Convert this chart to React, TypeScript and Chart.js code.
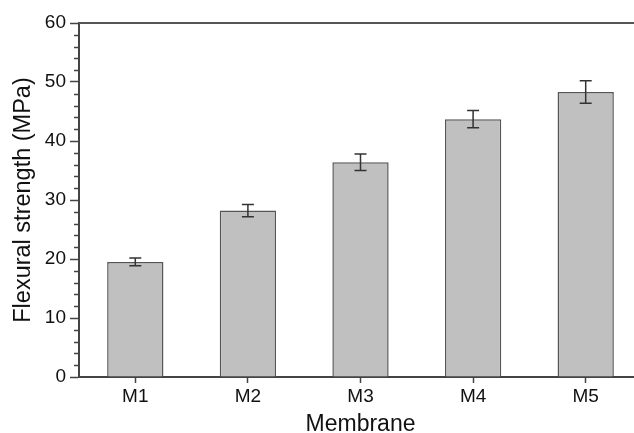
import React, { useEffect, useRef } from "react";
import { Chart, registerables } from "chart.js";

Chart.register(...registerables);

const categories = ["M1", "M2", "M3", "M4", "M5"];
const strength = [19.5, 28.2, 36.4, 43.7, 48.3];
const errors = [0.65, 1.05, 1.4, 1.45, 1.9];
const yMin = 0;
const yMax = 60;
const yStep = 10;
const yMinorStep = 2;
const xTitle = "Membrane";
const yTitle = "Flexural strength (MPa)";

const FONT = "'Liberation Sans', Arial, sans-serif";
const AXIS_COLOR = "#444";
const TEXT_COLOR = "#111";

const extrasPlugin = {
  id: "extras",
  afterDatasetsDraw(chart: any) {
    const ctx = chart.ctx;
    const area = chart.chartArea;
    const y = chart.scales.y;
    const meta = chart.getDatasetMeta(0);
    ctx.save();
    // error bars
    ctx.strokeStyle = "#333";
    ctx.lineWidth = 1.5;
    meta.data.forEach((bar: any, i: number) => {
      const cx = bar.x;
      const top = y.getPixelForValue(strength[i] + errors[i]);
      const bot = y.getPixelForValue(strength[i] - errors[i]);
      const half = 6;
      ctx.beginPath();
      ctx.moveTo(cx, top);
      ctx.lineTo(cx, bot);
      ctx.moveTo(cx - half, top);
      ctx.lineTo(cx + half, top);
      ctx.moveTo(cx - half, bot);
      ctx.lineTo(cx + half, bot);
      ctx.stroke();
    });
    // minor ticks
    ctx.strokeStyle = AXIS_COLOR;
    ctx.lineWidth = 1.5;
    for (let v = yMin; v <= yMax; v += yMinorStep) {
      if (v % yStep === 0) continue;
      const py = Math.round(y.getPixelForValue(v)) + 0.5;
      ctx.beginPath();
      ctx.moveTo(area.left - 5, py);
      ctx.lineTo(area.left, py);
      ctx.stroke();
    }
    // top frame line
    ctx.strokeStyle = "#555";
    ctx.lineWidth = 2;
    ctx.beginPath();
    ctx.moveTo(area.left, area.top);
    ctx.lineTo(area.right + 20, area.top);
    ctx.stroke();
    ctx.restore();
  },
};

export default function App() {
  const ref = useRef<HTMLCanvasElement>(null);

  useEffect(() => {
    if (!ref.current) return;
    const chart = new Chart(ref.current, {
      type: "bar",
      data: {
        labels: categories,
        datasets: [
          {
            data: strength,
            backgroundColor: "#c0c0c0",
            borderColor: "#555",
            borderWidth: 1.5,
            categoryPercentage: 1,
            barPercentage: 0.5,
          },
        ],
      },
      options: {
        responsive: false,
        animation: false,
        devicePixelRatio: 1,
        layout: { padding: { top: 23, right: 18, left: 0, bottom: 0 } },
        plugins: {
          legend: { display: false },
          tooltip: { enabled: false },
        },
        scales: {
          x: {
            offset: true,
            grid: {
              display: true,
              drawOnChartArea: false,
              drawTicks: true,
              tickLength: 6,
              tickColor: AXIS_COLOR,
              tickWidth: 1.5,
              offset: false,
            },
            border: { display: true, color: AXIS_COLOR, width: 2 },
            ticks: {
              color: TEXT_COLOR,
              padding: 2,
              font: { family: FONT, size: 19 },
              maxRotation: 0,
            },
            title: {
              display: true,
              text: xTitle,
              color: TEXT_COLOR,
              font: { family: FONT, size: 23 },
              padding: { top: 0, bottom: 1.5 },
            },
            afterFit(scale: any) {
              scale.height = 63;
            },
          },
          y: {
            min: yMin,
            max: yMax,
            grid: {
              display: true,
              drawOnChartArea: false,
              drawTicks: true,
              tickLength: 9,
              tickColor: AXIS_COLOR,
              tickWidth: 1.5,
            },
            border: { display: true, color: AXIS_COLOR, width: 2 },
            ticks: {
              stepSize: yStep,
              color: TEXT_COLOR,
              padding: 4,
              font: { family: FONT, size: 19 },
            },
            title: {
              display: true,
              text: yTitle,
              color: TEXT_COLOR,
              font: { family: FONT, size: 23.5 },
              padding: { top: 9, bottom: 0 },
            },
            afterFit(scale: any) {
              scale.width = 79;
            },
          },
        },
      },
      plugins: [extrasPlugin],
    });
    return () => chart.destroy();
  }, []);

  return (
    <div
      style={{
        position: "fixed",
        left: 0,
        top: 0,
        width: 634,
        height: 433,
        overflow: "hidden",
        background: "#fff",
      }}
    >
      <canvas ref={ref} width={660} height={440} style={{ display: "block" }} />
    </div>
  );
}
